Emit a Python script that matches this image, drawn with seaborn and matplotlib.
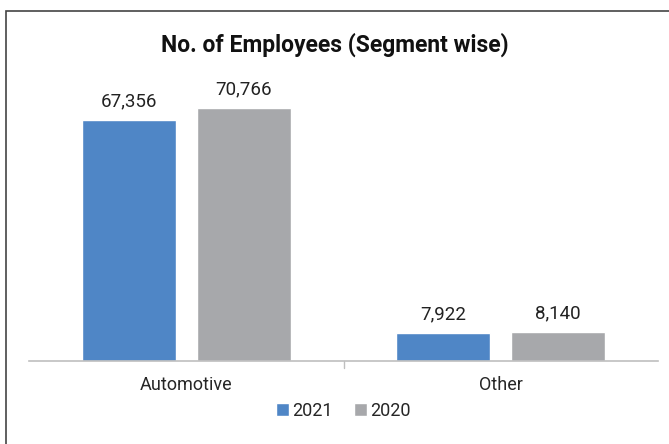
import pandas as pd
import seaborn as sns
import matplotlib.pyplot as plt
from matplotlib.patches import Rectangle

segments = ["Automotive", "Other"]
years = ["2021", "2020"]
emp_2021 = [67356, 7922]
emp_2020 = [70766, 8140]

df = pd.DataFrame({
    "segment": segments * 2,
    "year": [years[0]] * 2 + [years[1]] * 2,
    "employees": emp_2021 + emp_2020,
})

sns.set_style("white")
plt.rcParams["font.family"] = ["Roboto", "DejaVu Sans"]

fig = plt.figure(figsize=(6.69, 4.44), dpi=100)
ax = fig.add_axes([29 / 669, 1 - 361 / 444, 629 / 669, 286 / 444])

sns.barplot(data=df, x="segment", y="employees", hue="year",
            palette=["#4f86c6", "#a7a8ab"], width=0.73, gap=0.18,
            saturation=1, ax=ax)

for cont in ax.containers:
    ax.bar_label(cont, labels=[f"{v:,.0f}" for v in cont.datavalues],
                 padding=7, fontsize=13.5, color="#222222")

ax.set_ylim(0, 80000)
ax.set_xlim(-0.5, 1.5)
ax.set_yticks([])
ax.set_xlabel("")
ax.set_ylabel("")
ax.tick_params(axis="x", length=0, labelsize=13, pad=11)
for s in ["top", "right", "left"]:
    ax.spines[s].set_visible(False)
ax.spines["bottom"].set_color("#bfbfbf")
ax.spines["bottom"].set_linewidth(1.2)
ax.axvline(0.5, ymin=-0.025, ymax=0, color="#bfbfbf", lw=1, clip_on=False)

fig.suptitle("No. of Employees (Segment wise)", y=1 - 45 / 444, va="center",
             fontsize=16.5, fontweight="bold", color="#111111")

ax.legend(loc="center", bbox_to_anchor=(0.5, -0.175), ncol=2, frameon=False,
          fontsize=13, handlelength=0.7, handleheight=0.7,
          handletextpad=0.2, columnspacing=1.2)

fig.add_artist(Rectangle((6 / 669, -0.05), 1.1, 1 - 11 / 444 + 0.05,
                         transform=fig.transFigure, fill=False,
                         edgecolor="#444444", lw=1.2))

fig.savefig("out.png", dpi=100)
